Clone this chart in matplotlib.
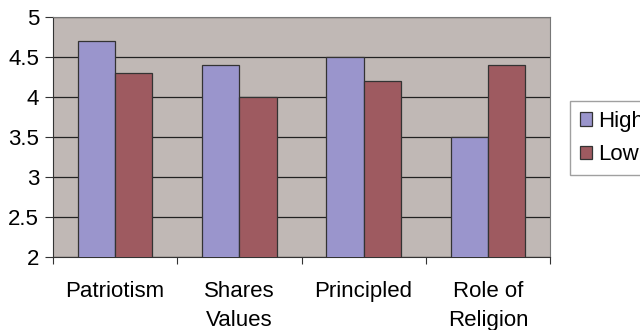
import matplotlib

matplotlib.use("Agg")

import matplotlib.pyplot as plt
import numpy as np

categories = ["Patriotism", "Shares\nValues", "Principled", "Role of\nReligion"]
high = [4.7, 4.4, 4.5, 3.5]
low = [4.3, 4.0, 4.2, 4.4]
y_ticks = [2, 2.5, 3, 3.5, 4, 4.5, 5]
y_tick_labels = ["2", "2.5", "3", "3.5", "4", "4.5", "5"]

plt.rcParams["font.family"] = ["Liberation Sans", "DejaVu Sans"]

fig = plt.figure(figsize=(6.4, 3.3), dpi=100)
ax = fig.add_axes([53 / 640, 73 / 330, 497 / 640, 240 / 330])
ax.set_facecolor("#C0B8B5")

x = np.arange(len(categories))
width = 0.3
ax.bar(x - width / 2, high, width, bottom=0, color="#9A95CC",
       edgecolor="#333333", linewidth=0.9, label="High", zorder=3)
ax.bar(x + width / 2, low, width, bottom=0, color="#9E5A60",
       edgecolor="#333333", linewidth=0.9, label="Low", zorder=3)

ax.set_ylim(2, 5)
ax.set_xlim(-0.5, len(categories) - 0.5)
ax.set_yticks(y_ticks)
ax.set_yticklabels(y_tick_labels, fontsize=16)
ax.yaxis.grid(True, color="#222222", linewidth=0.9, zorder=1)
ax.set_axisbelow(True)

# boundary ticks between categories, labels centred on each group
ax.set_xticks(np.arange(len(categories) + 1) - 0.5)
ax.set_xticklabels([])
ax.set_xticks(x, minor=True)
ax.set_xticklabels(categories, minor=True, fontsize=16, linespacing=1.55)
ax.tick_params(axis="x", which="major", direction="out", length=5,
               color="#333333")
ax.tick_params(axis="x", which="minor", length=0, pad=17)
ax.tick_params(axis="y", direction="out", length=6, color="#333333", pad=4)

for side in ["left", "bottom"]:
    ax.spines[side].set_color("#333333")
for side in ["top", "right"]:
    ax.spines[side].set_color("#777777")

fig.legend(loc="center left", bbox_to_anchor=(570 / 640, 1 - 138 / 330),
           borderaxespad=0, fontsize=16, frameon=True, fancybox=False,
           edgecolor="#888888", handlelength=0.55, handleheight=0.55,
           handletextpad=0.25, borderpad=0.45, labelspacing=0.55)

fig.savefig("out.png", dpi=100)
